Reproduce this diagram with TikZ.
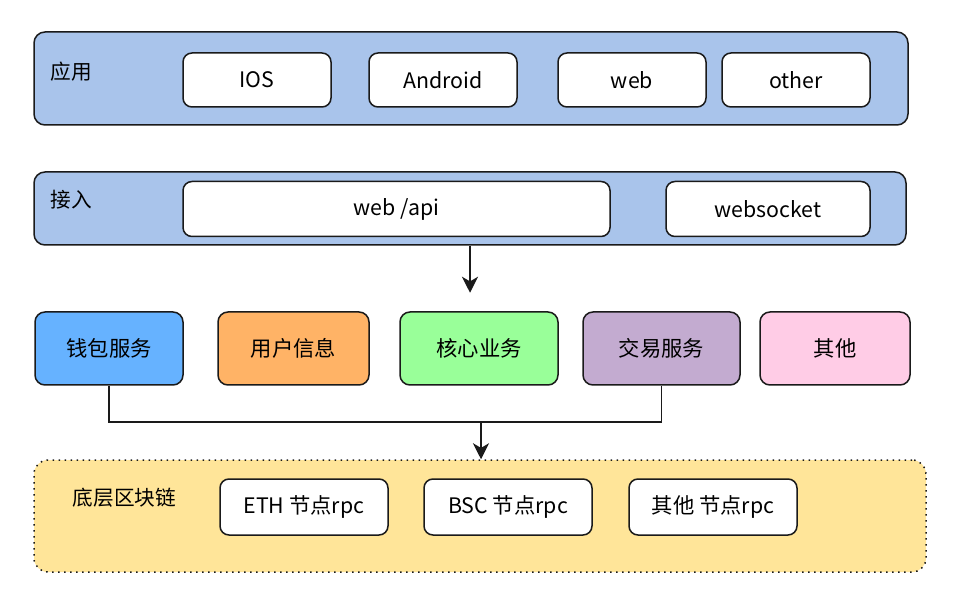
\documentclass[tikz,border=0pt]{standalone}
\usepackage{fontspec}
\setmainfont{Noto Sans CJK SC}
\usetikzlibrary{arrows.meta, positioning}
\definecolor{layerblue}{HTML}{A9C4EB}
\definecolor{walletblue}{HTML}{66B2FF}
\definecolor{userorange}{HTML}{FFB366}
\definecolor{coregreen}{HTML}{99FF99}
\definecolor{tradepurple}{HTML}{C3ABD0}
\definecolor{otherpink}{HTML}{FFCCE6}
\definecolor{chainyellow}{HTML}{FFE599}
\definecolor{edge}{HTML}{1A1A1A}

\def\px{0.75pt} % one pixel of the layout

\tikzset{
  layer/.style={draw=edge, line width=1.5*\px, rounded corners=11*\px, fill=layerblue},
  card/.style={draw=edge, line width=1.5*\px, rounded corners=9*\px, fill=white,
    minimum height=54*\px, font=\fontsize{16}{19}\selectfont},
  svc/.style={card, minimum width=150*\px, minimum height=73*\px, rounded corners=10*\px},
  tag/.style={anchor=west, font=\fontsize{15.5}{18}\selectfont},
  tip/.tip={Stealth[length=12pt, width=12pt, inset=3.5pt]},
  arr/.style={line width=1.5*\px, draw=edge, -tip},
  wire/.style={line width=1.5*\px, draw=edge}
}

\begin{document}
\begin{tikzpicture}[x=\px, y=-\px]
  \useasboundingbox (0,0) rectangle (960,616);

  % Application layer
  \node[layer, minimum width=874*\px, minimum height=93*\px] (app) at (471,78.5) {};
  \node[tag] (applbl) at (46,72) {应用};
  \node[card, minimum width=148*\px] (ios) at (257,80) {IOS};
  \node[card, minimum width=148*\px] (android) at (443,80) {Android};
  \node[card, minimum width=148*\px] (web) at (632,80) {web};
  \node[card, minimum width=148*\px] (other) at (796,80) {other};

  % Access layer
  \node[layer, minimum width=872*\px, minimum height=73*\px] (access) at (470,208.5) {};
  \node[tag] (acclbl) at (46,200) {接入};
  \node[card, minimum width=427*\px, minimum height=55*\px] (api) at (396.5,209) {web /api};
  \node[card, minimum width=204*\px, minimum height=55*\px] (ws) at (768,209) {websocket};

  \draw[arr] (access.south) -- ++(0,47);

  % Service row
  \node[svc, fill=walletblue, minimum width=148*\px] (wallet) at (109,348.5) {钱包服务};
  \node[svc, fill=userorange, minimum width=151*\px] (user) at (293.5,348.5) {用户信息};
  \node[svc, fill=coregreen, minimum width=158*\px] (core) at (479,348.5) {核心业务};
  \node[svc, fill=tradepurple, minimum width=157*\px] (trade) at (661.5,348.5) {交易服务};
  \node[svc, fill=otherpink, minimum width=150*\px] (misc) at (835,348.5) {其他};

  % Chain layer
  \node[draw=edge, line width=1.5*\px, dash pattern=on 1.5*\px off 4.5*\px, rounded corners=14*\px,
    fill=chainyellow, minimum width=892*\px, minimum height=112*\px] (chain) at (480,516) {};
  \node[tag] (chainlbl) at (68,498) {底层区块链};
  \node[card, minimum width=168*\px, minimum height=56*\px] (eth) at (304,507) {ETH 节点rpc};
  \node[card, minimum width=168*\px, minimum height=56*\px] (bsc) at (508,507) {BSC 节点rpc};
  \node[card, minimum width=168*\px, minimum height=56*\px] (rest) at (713,507) {其他 节点rpc};

  % Bus from wallet and trade down to the chain
  \coordinate (bus) at (481,422);
  \draw[wire] (wallet.south) |- (bus) -| (trade.south);
  \draw[arr] (bus) -- (bus |- chain.north);
\end{tikzpicture}
\end{document}
